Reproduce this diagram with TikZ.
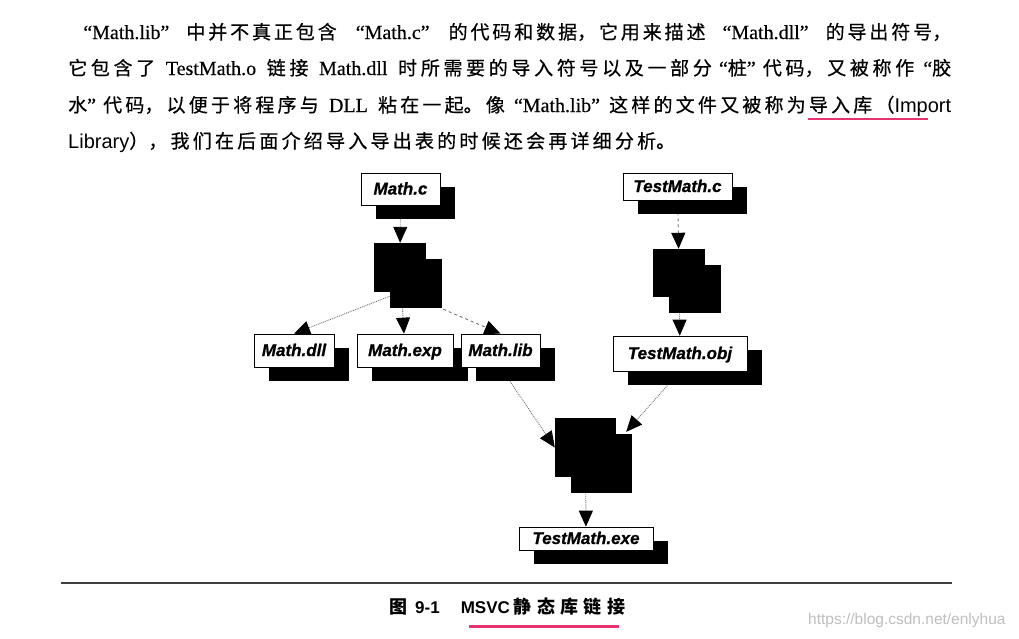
\documentclass[tikz,border=0pt]{standalone}
\usepackage{fontspec}
\setmainfont{Liberation Serif}[FakeBold=0.3]
\newfontfamily\cjk{Noto Sans CJK SC}[FakeBold=0.5]
\newfontfamily\cjkcap{Noto Sans CJK SC}
\newfontfamily\hv{Liberation Sans}
\newfontfamily\boxf{Liberation Sans}[FakeBold=0.8]
\usetikzlibrary{arrows.meta,shadows,calc}
\definecolor{pinkline}{RGB}{231,52,110}
\pgfdeclarelayer{background}
\pgfsetlayers{background,main}
\newcommand\la[1]{{\rmfamily\fontsize{20}{24}\selectfont #1}}
\newcommand\sa[1]{{\hv\fontsize{20}{24}\selectfont #1}}
\newcommand\oq[1]{\makebox[#1][r]{\la{“}}}
\newcommand\cq[1]{\makebox[#1][l]{\la{”}}}
\newcommand\wsp{\hspace{8pt plus 1fil}}
\newcommand\gp{\hspace{0pt plus 1fil}}
\newcommand\jline[2]{\parbox[b]{#1}{\XeTeXlinebreaklocale "zh"\XeTeXlinebreakskip=1pt plus 1fil\relax\parfillskip=0pt\relax\cjk\fontsize{19}{36}\selectfont #2}}
\begin{document}
\begin{tikzpicture}[x=1pt,y=-1pt,
  filebox/.style={draw, line width=0.7pt, fill=white, inner sep=0pt,
    text height=12pt, text depth=1pt,
    font=\boxf\bfseries\itshape\fontsize{17}{20}\selectfont,
    drop shadow={shadow xshift=15pt, shadow yshift=-14pt, fill=black, opacity=1}},
  toolbox/.style={draw=none, fill=black, inner sep=0pt,
    drop shadow={shadow xshift=16pt, shadow yshift=-16pt, fill=black, opacity=1}},
  conn/.style={draw=black!55, densely dotted, line width=0.9pt,
    -{Triangle[length=16pt,width=14pt,color=black,fill=black]}},
  textline/.style={anchor=base west, inner sep=0pt}]
\begin{pgfonlayer}{background}
\fill[white] (0,0) rectangle (1019,638);
\end{pgfonlayer}
\useasboundingbox (0,0) rectangle (1019,638);

% paragraph
\node[textline] (l1) at (68,39) {\jline{883pt}{\oq{24pt}\la{Math.lib}\cq{24pt}\gp 中并不真正包含\gp\oq{26pt}\la{Math.c}\cq{26pt}\gp 的代码和数据，它用来描述\gp\oq{24pt}\la{Math.dll}\cq{24pt}\gp 的导出符号，}};
\node[textline] (l2) at (68,75) {\jline{883pt}{它包含了\wsp\la{TestMath.o}\wsp 链接\wsp\la{Math.dll}\wsp 时所需要的导入符号以及一部分\oq{16pt}桩\cq{16pt}代码，又被称作\oq{18pt}胶}};
\node[textline] (l3) at (68,112) {\jline{883pt}{水\cq{16pt}代码，以便于将程序与\wsp\la{DLL}\wsp 粘在一起。像\oq{18pt}\la{Math.lib}\cq{18pt}这样的文件又被称为导入库（\sa{Import}}};
\node[textline] (l4) at (68,148) {\jline{607pt}{\sa{Library}），我们在后面介绍导入导出表的时候还会再详细分析。}};
\draw[pinkline, line width=2.5pt] (808,119) -- (928,119);

% file boxes
\node[filebox, minimum width=79pt, minimum height=32pt] (mathc) at (400.5,189) {Math.c};
\node[filebox, minimum width=80pt, minimum height=33pt] (dll) at (294,350.5) {Math.dll};
\node[filebox, minimum width=96pt, minimum height=33pt] (exp) at (405,350.5) {Math.exp};
\node[filebox, minimum width=79pt, minimum height=33pt] (lib) at (500.5,350.5) {Math.lib};
\node[filebox, minimum width=109pt, minimum height=27pt] (tc) at (677.5,186.5) {TestMath.c};
\node[filebox, minimum width=134pt, minimum height=35pt] (obj) at (680,353.5) {TestMath.obj};
\node[filebox, minimum width=134pt, minimum height=23pt] (exe) at (586,538.5) {TestMath.exe};

% tools
\node[toolbox, minimum width=52pt, minimum height=49pt] (cc) at (400,267.5) {};
\node[toolbox, minimum width=52pt, minimum height=48pt] (cc2) at (679,273) {};
\node[toolbox, minimum width=61pt, minimum height=59pt] (link) at (585.5,447.5) {};

\begin{pgfonlayer}{background}
\draw[conn] (mathc) -- (cc);
\draw[conn] (cc.south) -- (dll.north);
\draw[conn] (cc) -- (exp);
\draw[conn, dashed] ($(cc.south east)+(17,17)$) -- (lib.north);
\draw[conn, dashed] (tc) -- (cc2);
\draw[conn] (cc2) -- (obj);
\draw[conn] (lib.south) -- (link.west);
\draw[conn] (obj.south) -- ($(link.north east)+(10,14)$);
\draw[conn] (link) -- (exe);
\end{pgfonlayer}

% caption
\draw[line width=2.5pt, black!75] (61,583) -- (952,583);
\node[textline] (cap) at (389,613) {\parbox[b]{236pt}{\XeTeXlinebreaklocale "zh"\XeTeXlinebreakskip=2pt plus 1fil\relax\parfillskip=0pt\relax{\cjkcap\bfseries\fontsize{18}{20}\selectfont 图}\hspace{8pt}{\hv\bfseries\fontsize{17}{20}\selectfont 9-1}\hspace{21pt}{\hv\bfseries\fontsize{17}{20}\selectfont MSVC}\hspace{4pt}{\cjkcap\bfseries\fontsize{18}{20}\selectfont 静态库链接}}};
\draw[pinkline, line width=3pt] (469,626) -- (619,626);
\node[textline, text=black!25, font=\hv\fontsize{15.5}{18}\selectfont] (wm) at (808,624) {https://blog.csdn.net/enlyhua};
\end{tikzpicture}
\end{document}
